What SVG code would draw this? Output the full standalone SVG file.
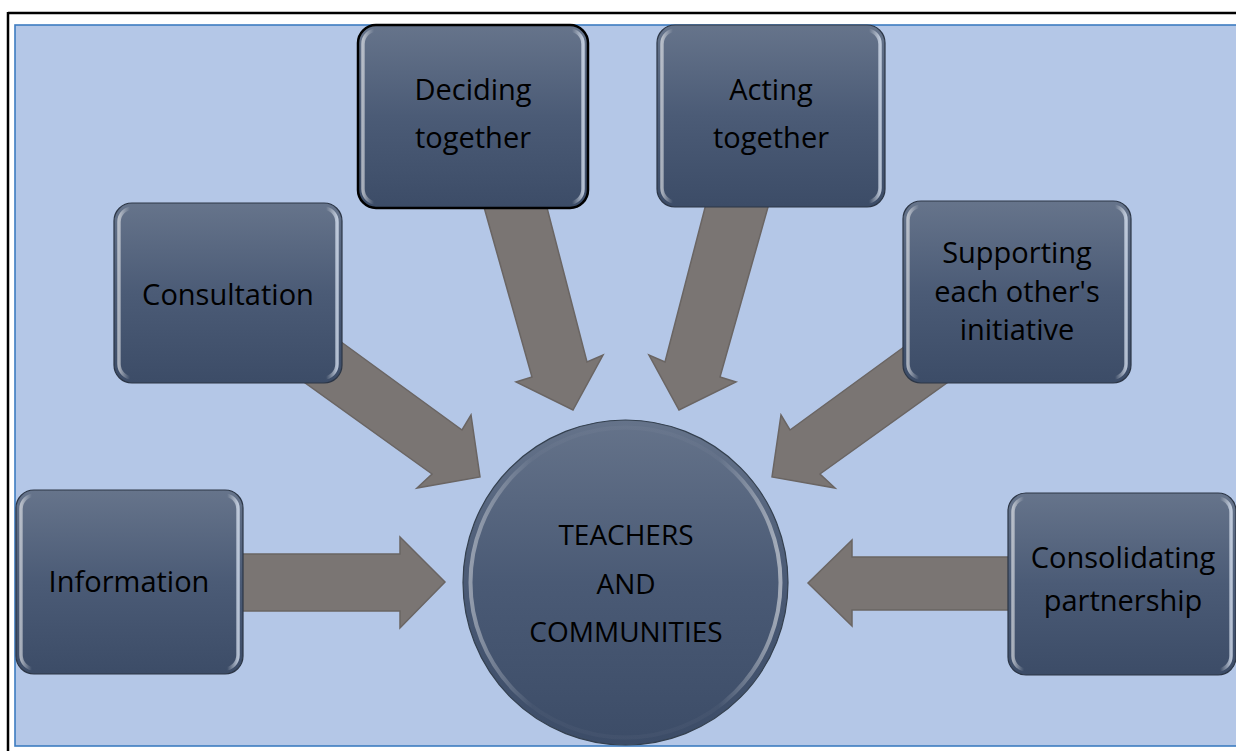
<svg xmlns="http://www.w3.org/2000/svg" width="1236" height="751" viewBox="0 0 1236 751">
<defs>
<linearGradient id="boxFill" x1="0" y1="0" x2="0" y2="1">
<stop offset="0" stop-color="#66748B"/>
<stop offset="0.5" stop-color="#4B5B76"/>
<stop offset="1" stop-color="#3C4C67"/>
</linearGradient>
<linearGradient id="bevel" x1="0" y1="0" x2="1" y2="0">
<stop offset="0" stop-color="#FFFFFF" stop-opacity="0.55"/>
<stop offset="0.05" stop-color="#FFFFFF" stop-opacity="0"/>
<stop offset="0.95" stop-color="#FFFFFF" stop-opacity="0"/>
<stop offset="1" stop-color="#E6F0FF" stop-opacity="0.7"/>
</linearGradient>
<linearGradient id="circFill" x1="0" y1="0" x2="0" y2="1">
<stop offset="0" stop-color="#65738A"/>
<stop offset="0.5" stop-color="#4A5A75"/>
<stop offset="1" stop-color="#3C4C67"/>
</linearGradient>
<linearGradient id="circRim" x1="0" y1="0" x2="1" y2="0">
<stop offset="0" stop-color="#FFFFFF" stop-opacity="0.4"/>
<stop offset="0.2" stop-color="#FFFFFF" stop-opacity="0.03"/>
<stop offset="0.8" stop-color="#FFFFFF" stop-opacity="0.03"/>
<stop offset="1" stop-color="#FFFFFF" stop-opacity="0.5"/>
</linearGradient>
<style>
.box{fill:url(#boxFill);stroke:#2C3646;stroke-width:1.2}
.sel{stroke:#000;stroke-width:2.5}
.bev{fill:none;stroke:url(#bevel);stroke-width:3.5}
.arr{fill:#7A7573;stroke:#6A6563;stroke-width:1.5;stroke-linejoin:miter}
.t{font-family:"Open Sans","Liberation Sans",sans-serif;font-size:29px;fill:#000;text-anchor:middle}
.ct{font-family:"Open Sans","Liberation Sans",sans-serif;font-size:28px;fill:#000;text-anchor:middle}
</style>
</defs>

<rect x="0" y="0" width="1236" height="751" fill="#FFFFFF"/>
<g id="frame">
<line x1="8" y1="13" x2="1236" y2="13" stroke="#000" stroke-width="2.5"/>
<line x1="8" y1="12" x2="8" y2="751" stroke="#000" stroke-width="2.5"/>
<rect x="15" y="25" width="1230" height="721" fill="#B4C7E7" stroke="#3D7CC1" stroke-width="1.6"/>
</g>

<g id="connectors">
<polygon class="arr" points="230,554 400,554 400,537 445,582 400,628 400,611 230,611"/>
<polygon class="arr" points="1020,557 852,557 852,540 808,583 852,626 852,610 1020,610"/>
<polygon class="arr" points="322,328 462,430 471,415 480,477 417,488 432,474 290,372"/>
<polygon class="arr" points="930,328 790,430 781,415 772,477 835,488 820,474 962,372"/>
<polygon class="arr" points="482,200 532,377 516,382 573,410 603,355 587,362 545,200"/>
<polygon class="arr" points="770,200 720,377 736,382 679,410 649,355 665,362 707,200"/>
</g>

<g id="node-information">
<rect class="box" x="16" y="490" width="227" height="184" rx="18"/>
<rect class="bev" x="21" y="495" width="217" height="174" rx="14"/>
<text class="t" x="129" y="592">Information</text>
</g>
<g id="node-consultation">
<rect class="box" x="114" y="203" width="228" height="180" rx="18"/>
<rect class="bev" x="119" y="208" width="218" height="170" rx="14"/>
<text class="t" x="228" y="305">Consultation</text>
</g>
<g id="node-deciding">
<rect class="box sel" x="358" y="25" width="230" height="183" rx="18"/>
<rect class="bev" x="363" y="30" width="220" height="173" rx="14"/>
<text class="t" x="473" y="100">Deciding</text>
<text class="t" x="473" y="148">together</text>
</g>
<g id="node-acting">
<rect class="box" x="657" y="25" width="228" height="182" rx="18"/>
<rect class="bev" x="662" y="30" width="218" height="172" rx="14"/>
<text class="t" x="771" y="100">Acting</text>
<text class="t" x="771" y="148">together</text>
</g>
<g id="node-supporting">
<rect class="box" x="903" y="201" width="228" height="182" rx="18"/>
<rect class="bev" x="908" y="206" width="218" height="172" rx="14"/>
<text class="t" x="1017" y="263">Supporting</text>
<text class="t" x="1017" y="302">each other's</text>
<text class="t" x="1017" y="340">initiative</text>
</g>
<g id="node-consolidating">
<rect class="box" x="1008" y="493" width="228" height="182" rx="18"/>
<rect class="bev" x="1013" y="498" width="218" height="172" rx="14"/>
<text class="t" x="1123" y="568">Consolidating</text>
<text class="t" x="1123" y="611">partnership</text>
</g>
<g id="node-center">
<circle cx="625.5" cy="582.5" r="162.5" fill="url(#circFill)" stroke="#34404F" stroke-width="1.2"/>
<circle cx="625.5" cy="582.5" r="155" fill="none" stroke="url(#circRim)" stroke-width="4"/>
<text class="ct" x="626" y="545">TEACHERS</text>
<text class="ct" x="626" y="594">AND</text>
<text class="ct" x="626" y="642">COMMUNITIES</text>
</g>
</svg>
